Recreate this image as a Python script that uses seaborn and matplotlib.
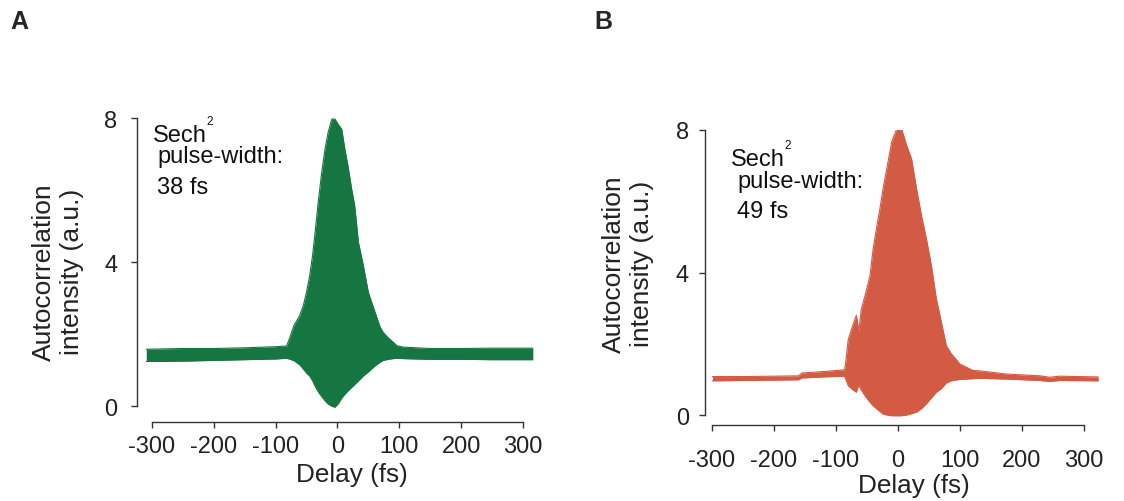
import matplotlib
matplotlib.use("Agg")
import matplotlib.pyplot as plt
import seaborn as sns

# panel A: envelope of the interferometric autocorrelation trace
delay_a = [-309, -250, -200, -150, -100, -82, -76, -70, -61, -55, -50, -45, -40, -36,
           -31, -26, -20, -15, -9, -4, 1, 7, 12, 17, 23, 28, 34, 42, 50, 61, 69, 74,
           82, 90, 96, 106, 150, 200, 250, 316]
upper_a = [1.58, 1.60, 1.60, 1.62, 1.65, 1.67, 1.95, 2.25, 2.51, 2.80, 3.16, 3.60, 4.20, 4.83,
           5.66, 6.40, 7.14, 7.60, 7.97, 7.97, 7.83, 7.69, 7.14, 6.68, 6.03, 5.56, 4.55, 3.90,
           3.16, 2.60, 2.20, 2.05, 1.90, 1.78, 1.68, 1.64, 1.60, 1.60, 1.61, 1.61]
lower_a = [1.24, 1.25, 1.27, 1.29, 1.31, 1.33, 1.30, 1.26, 1.15, 1.03, 0.92, 0.84, 0.70, 0.55,
           0.40, 0.28, 0.15, 0.06, 0.00, -0.03, 0.06, 0.22, 0.33, 0.42, 0.52, 0.60, 0.70, 0.84,
           0.95, 1.12, 1.22, 1.27, 1.30, 1.32, 1.33, 1.32, 1.30, 1.30, 1.29, 1.29]

# panel B
delay_b = [-299, -250, -200, -160, -155, -120, -86, -84, -80, -72, -67, -63, -59, -53, -45,
           -40, -34, -29, -24, -18, -10, -2, 6, 14, 22, 30, 38, 46, 54, 62, 70, 78, 86, 92,
           100, 121, 132, 175, 229, 245, 260, 323]
upper_b = [1.08, 1.08, 1.09, 1.10, 1.18, 1.22, 1.27, 1.50, 2.13, 2.56, 2.80, 2.35, 2.98, 3.35,
           3.91, 4.66, 5.30, 5.79, 6.35, 6.91, 7.67, 8.03, 8.03, 7.57, 7.19, 6.35, 5.60, 4.94,
           4.19, 3.26, 2.61, 1.95, 1.72, 1.60, 1.43, 1.25, 1.24, 1.15, 1.10, 1.06, 1.09, 1.07]
lower_b = [0.96, 0.97, 0.98, 0.99, 1.04, 1.07, 1.09, 1.00, 0.82, 0.70, 0.64, 0.85, 0.70, 0.54,
           0.36, 0.26, 0.17, 0.10, 0.03, 0.00, -0.02, -0.02, -0.02, 0.00, 0.04, 0.08, 0.18,
           0.32, 0.48, 0.64, 0.74, 0.90, 0.96, 0.98, 1.00, 1.02, 1.03, 1.01, 0.97, 0.94, 0.97,
           0.96]

x_ticks = [-300, -200, -100, 0, 100, 200, 300]
y_ticks = [0, 4, 8]

GREEN = "#167641"
RED = "#D45B43"

sns.set_style("ticks")
plt.rcParams["font.family"] = ["Liberation Sans", "DejaVu Sans"]
plt.rcParams["axes.unicode_minus"] = False

W, H = 1124, 502
fig = plt.figure(figsize=(W / 100, H / 100), dpi=100)


def px(x, y):
    return x / W, 1 - y / H


def panel(rect, delay, upper, lower, color, xlim, ylim, xpad, ypad, xlab_pos, ylab_pos):
    ax = fig.add_axes(rect)
    ax.fill_between(delay, lower, upper, color=color, lw=0)
    sns.lineplot(x=delay, y=upper, ax=ax, color=color, lw=0.8)
    sns.lineplot(x=delay, y=lower, ax=ax, color=color, lw=0.8)
    ax.set_xlim(*xlim)
    ax.set_ylim(*ylim)
    ax.set_xticks(x_ticks)
    ax.set_yticks(y_ticks)
    sns.despine(ax=ax)
    ax.spines["left"].set_bounds(0, 8)
    ax.spines["bottom"].set_bounds(-300, 300)
    for s in ("left", "bottom"):
        ax.spines[s].set_color("#333333")
        ax.spines[s].set_linewidth(1.0)
    ax.tick_params(axis="x", labelsize=17, length=4.5, width=1.0, pad=xpad,
                   color="#333333", labelcolor="#222222")
    ax.tick_params(axis="y", labelsize=17, length=4, width=1.0, pad=ypad,
                   color="#333333", labelcolor="#222222")
    ax.set_xlabel("Delay (fs)", fontsize=18.8, color="#222222")
    ax.xaxis.label.set_va("baseline")
    ax.xaxis.set_label_coords(*xlab_pos)
    ax.set_ylabel("Autocorrelation\nintensity (a.u.)", fontsize=19, color="#222222",
                  linespacing=1.2)
    ax.yaxis.set_label_coords(*ylab_pos)
    ax.set_facecolor("none")
    return ax


ax_a = panel([137 / W, 79 / H, 401.4 / W, 304 / H], delay_a, upper_a, lower_a, GREEN,
             (-324, 325), (-0.44, 8.0), 5, 10, (0.536, -0.194), (-0.132, 0.497))
ax_b = panel([705 / W, 76 / H, 397.6 / W, 295 / H], delay_b, upper_b, lower_b, RED,
             (-311, 330), (-0.28, 8.0), 13, 7.5, (0.526, -0.227), (-0.128, 0.55))

# annotations
txt = dict(fontsize=17, color="#111111", va="baseline", ha="left")
fig.text(*px(153, 142), "Sech", **txt)
fig.text(*px(206, 125), "2", fontsize=8.5, color="#111111", va="baseline", ha="left")
fig.text(*px(157, 163), "pulse-width:", **txt)
fig.text(*px(157, 194), "38 fs", **txt)

fig.text(*px(731, 166), "Sech", **txt)
fig.text(*px(784, 149), "2", fontsize=8.5, color="#111111", va="baseline", ha="left")
fig.text(*px(737, 188), "pulse-width:", **txt)
fig.text(*px(737, 218), "49 fs", **txt)

fig.text(*px(10, 29), "A", fontsize=18, fontweight="bold", va="baseline", ha="left")
fig.text(*px(594, 29), "B", fontsize=18, fontweight="bold", va="baseline", ha="left")

fig.savefig("out.png", dpi=100)
